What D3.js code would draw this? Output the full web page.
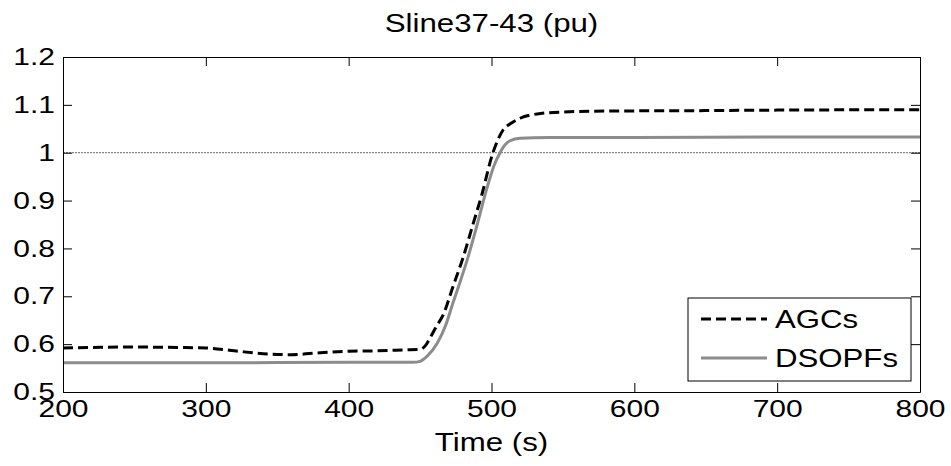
<!DOCTYPE html>
<html>
<head>
<meta charset="utf-8">
<script src="https://cdn.jsdelivr.net/npm/d3@7"></script>
<style>
  body { margin: 0; background: #fff; }
  text { font-family: "Liberation Sans", Arial, sans-serif; fill: #000; }
</style>
</head>
<body>
<div id="chart"></div>
<script>
// values
var agcTime = [200, 220, 250, 280, 300, 320, 340, 360, 380, 400, 420, 440, 450, 454, 457, 462, 466, 473, 480, 487, 493, 501, 508, 514, 520, 532, 550, 580, 650, 700, 800];
var agcVal  = [0.592, 0.593, 0.594, 0.593, 0.592, 0.586, 0.580, 0.578, 0.582, 0.585, 0.586, 0.588, 0.589, 0.598, 0.613, 0.64, 0.66, 0.72, 0.78, 0.85, 0.91, 1.0, 1.047, 1.062, 1.072, 1.081, 1.085, 1.087, 1.088, 1.089, 1.09];

var dsoTime = [200, 300, 400, 445, 450, 455, 462, 468, 473, 478, 483, 490, 497, 502, 506, 510, 513, 520, 540, 600, 700, 800];
var dsoVal  = [0.561, 0.561, 0.562, 0.562, 0.564, 0.575, 0.602, 0.64, 0.686, 0.73, 0.776, 0.85, 0.928, 0.975, 1.0, 1.018, 1.025, 1.03, 1.032, 1.032, 1.033, 1.033];

var xTicks = [200, 300, 400, 500, 600, 700, 800];
var yTicks = [0.5, 0.6, 0.7, 0.8, 0.9, 1.0, 1.1, 1.2];
var yLabels = ['0.5', '0.6', '0.7', '0.8', '0.9', '1', '1.1', '1.2'];
var refLevel = 1.0;
var seriesNames = ['AGCs', 'DSOPFs'];

var width = 951, height = 466;
var plot = { left: 63, right: 920, top: 57, bottom: 392 };
var stretch = 1.25;   // the figure was widened, text is stretched too

var svg = d3.select('#chart').append('svg')
  .attr('width', width)
  .attr('height', height);

var x = d3.scaleLinear().domain([200, 800]).range([plot.left, plot.right]);
var y = d3.scaleLinear().domain([0.5, 1.2]).range([plot.bottom, plot.top]);

// reference line at 1
svg.append('line')
  .attr('x1', plot.left).attr('x2', plot.right)
  .attr('y1', y(refLevel)).attr('y2', y(refLevel))
  .attr('stroke', '#666')
  .attr('stroke-width', 1)
  .attr('stroke-dasharray', '2,1');

var line = d3.line()
  .x(function(d) { return x(d[0]); })
  .y(function(d) { return y(d[1]); })
  .curve(d3.curveMonotoneX);

var dsoData = dsoTime.map(function(t, i) { return [t, dsoVal[i]]; });
var agcData = agcTime.map(function(t, i) { return [t, agcVal[i]]; });

svg.append('path')
  .attr('d', line(dsoData))
  .attr('fill', 'none')
  .attr('stroke', '#8c8c8c')
  .attr('stroke-width', 3);

svg.append('path')
  .attr('d', line(agcData))
  .attr('fill', 'none')
  .attr('stroke', '#000')
  .attr('stroke-width', 3)
  .attr('stroke-dasharray', '10,5');

// axes, ticks pointing inward on all four sides
function styleAxis(g) {
  g.selectAll('path').attr('stroke', '#000');
  g.selectAll('line').attr('stroke', '#000');
  g.selectAll('text')
    .style('font-size', '24px')
    .attr('fill', '#000');
}

var gx = svg.append('g')
  .attr('transform', 'translate(0,' + plot.bottom + ')')
  .call(d3.axisBottom(x).tickValues(xTicks).tickSizeInner(-9).tickSizeOuter(0).tickPadding(8).tickFormat(d3.format('d')));
styleAxis(gx);
gx.selectAll('text').attr('transform', 'scale(' + stretch + ',1)');

var gy = svg.append('g')
  .attr('transform', 'translate(' + plot.left + ',0)')
  .call(d3.axisLeft(y).tickValues(yTicks).tickSizeInner(-9).tickSizeOuter(0).tickPadding(6.4)
    .tickFormat(function(d, i) { return yLabels[i]; }));
styleAxis(gy);
gy.selectAll('text').attr('transform', 'scale(' + stretch + ',1)');

var gt = svg.append('g')
  .attr('transform', 'translate(0,' + plot.top + ')')
  .call(d3.axisTop(x).tickValues(xTicks).tickSizeInner(-9).tickSizeOuter(0).tickFormat(''));
styleAxis(gt);

var gr = svg.append('g')
  .attr('transform', 'translate(' + plot.right + ',0)')
  .call(d3.axisRight(y).tickValues(yTicks).tickSizeInner(-9).tickSizeOuter(0).tickFormat(''));
styleAxis(gr);

// title and x label
svg.append('text')
  .attr('transform', 'translate(' + ((plot.left + plot.right) / 2) + ',32) scale(' + stretch + ',1)')
  .attr('text-anchor', 'middle')
  .style('font-size', '25px')
  .text('Sline37-43 (pu)');

svg.append('text')
  .attr('transform', 'translate(' + ((plot.left + plot.right) / 2) + ',451) scale(' + stretch + ',1)')
  .attr('text-anchor', 'middle')
  .style('font-size', '25px')
  .text('Time (s)');

// legend
var legend = svg.append('g').attr('transform', 'translate(688,298)');
legend.append('rect')
  .attr('width', 223).attr('height', 83)
  .attr('fill', '#fff')
  .attr('stroke', '#000')
  .attr('stroke-width', 1);

var legendStyle = [
  { stroke: '#000', dash: '10,5' },
  { stroke: '#8c8c8c', dash: null }
];

seriesNames.forEach(function(name, i) {
  var cy = 21 + i * 39;
  legend.append('line')
    .attr('x1', 13).attr('x2', 79)
    .attr('y1', cy).attr('y2', cy)
    .attr('stroke', legendStyle[i].stroke)
    .attr('stroke-width', 3)
    .attr('stroke-dasharray', legendStyle[i].dash);
  legend.append('text')
    .attr('transform', 'translate(87,' + (cy + 9) + ') scale(1.2,1)')
    .style('font-size', '26px')
    .text(name);
});
</script>
</body>
</html>
